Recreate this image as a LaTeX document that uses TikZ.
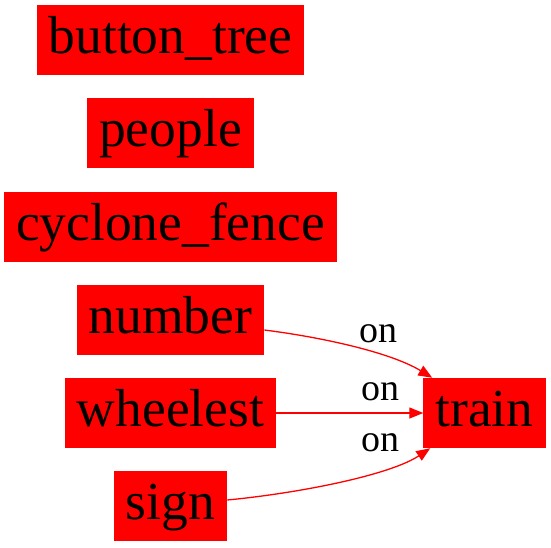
\documentclass[tikz,border=0pt]{standalone}
\usepackage{fontspec}
\setmainfont{Liberation Serif}
\usetikzlibrary{arrows.meta}
\begin{document}
\begin{tikzpicture}[x=1pt, y=1pt,
    box/.style={fill=red, text=black, inner xsep=12pt, inner ysep=0pt,
      minimum height=70pt, text height=38.5pt, text depth=11pt,
      font=\fontsize{53.5}{60}\selectfont},
    rel/.style={draw=red, line width=1.3pt, -{Triangle[length=14pt,width=11pt]}},
    lbl/.style={anchor=base, inner sep=0pt, text=black,
      font=\fontsize{38}{44}\selectfont}]
  \useasboundingbox (0,0) rectangle (551,-547);
  \node[box] (button_tree) at (170.5,-39.5) {button\_tree};
  \node[box] (people) at (170.5,-133) {people};
  \node[box] (cyclone_fence) at (170.5,-226.5) {cyclone\_fence};
  \node[box] (number) at (170.5,-320) {number};
  \node[box] (wheelest) at (170.5,-413) {wheelest};
  \node[box] (sign) at (170.5,-506) {sign};
  \node[box] (train) at (484.5,-413) {train};
  % edges
  \draw[rel] ([yshift=-10pt]number.east)
    .. controls (320,-337) and (390,-352) .. ([xshift=9pt]train.north west);
  \draw[rel] (wheelest.east) -- (train.west);
  \draw[rel] ([yshift=6pt]sign.east)
    .. controls (300,-493) and (390,-475) .. ([xshift=7pt]train.south west);
  \node[lbl] (on1) at (378,-342) {on};
  \node[lbl] (on2) at (380,-400) {on};
  \node[lbl] (on3) at (380,-451) {on};
\end{tikzpicture}
\end{document}
